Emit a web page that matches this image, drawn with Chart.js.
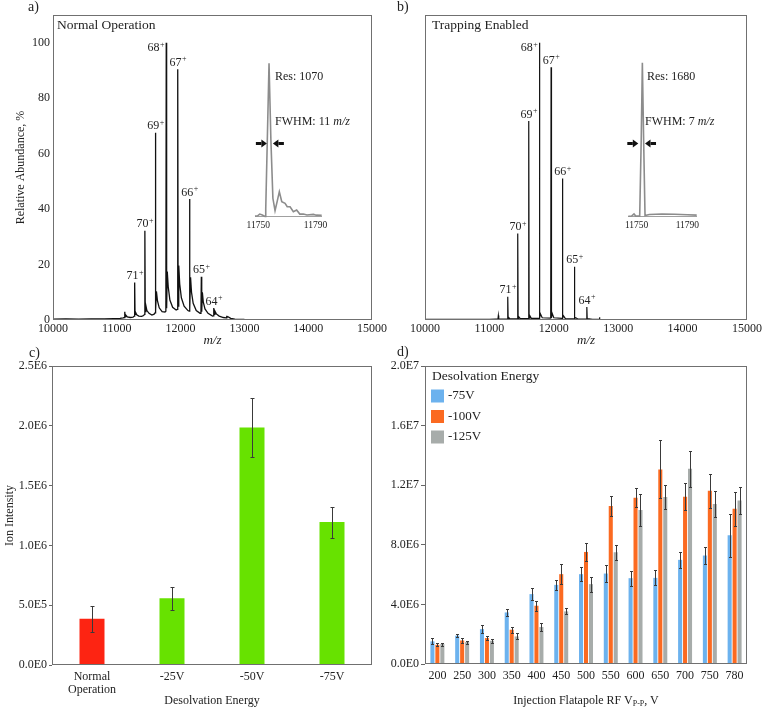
<!DOCTYPE html>
<html>
<head>
<meta charset="utf-8">
<script src="https://cdn.jsdelivr.net/npm/chart.js@4.4.0/dist/chart.umd.min.js"></script>
<style>
    body { margin: 0; background: #fff; width: 763px; height: 711px; position: relative; overflow: hidden;
           font-family: "Liberation Serif", "Times New Roman", serif; color: #222; }
    .box { position: absolute; }
    .t { position: absolute; white-space: nowrap; line-height: 1; }
    sub { font-size: 8px; vertical-align: -2px; }
</style>
</head>
<body>

<div class="box" style="left:0;top:0"><canvas id="specA" width="395" height="350"></canvas></div>
<div class="box" style="left:380px;top:0"><canvas id="specB" width="383" height="350"></canvas></div>
<div class="box" style="left:240px;top:50px"><canvas id="insetA" width="132" height="185"></canvas></div>
<div class="box" style="left:613px;top:50px"><canvas id="insetB" width="120" height="185"></canvas></div>
<div class="box" style="left:0;top:345px"><canvas id="barC" width="380" height="366"></canvas></div>
<div class="box" style="left:380px;top:345px"><canvas id="barD" width="383" height="366"></canvas></div>

<div class="t" style="left:28px;top:0;font-size:14px">a)</div>
<div class="t" style="left:397px;top:0;font-size:14px">b)</div>
<div class="t" style="left:29px;top:346px;font-size:14px">c)</div>
<div class="t" style="left:397px;top:345px;font-size:14px">d)</div>
<div class="t" style="left:57px;top:18px;font-size:13.5px">Normal Operation</div>
<div class="t" style="left:432px;top:18px;font-size:13.5px">Trapping Enabled</div>
<div class="t" style="left:275px;top:70px;font-size:12px">Res: 1070</div>
<div class="t" style="left:275px;top:115px;font-size:12px">FWHM: 11 <i>m/z</i></div>
<div class="t" style="left:647px;top:70px;font-size:12px">Res: 1680</div>
<div class="t" style="left:645px;top:115px;font-size:12px">FWHM: 7 <i>m/z</i></div>
<div class="t" style="left:436px;width:300px;text-align:center;top:694px;font-size:12px">Injection Flatapole RF V<sub>P-P</sub>, V</div>

<script>
// ---- a / b : mass spectra (m/z, relative abundance %)
const mzTicks = [10000, 11000, 12000, 13000, 14000, 15000];
const abundanceTicks = [0, 20, 40, 60, 80, 100];
const charges = [71, 70, 69, 68, 67, 66, 65, 64];
const peakMzA = [11280, 11440, 11605, 11775, 11955, 12140, 12325, 12520];
const peakHtA = [13.5, 32.2, 67.5, 100, 90.4, 43.6, 15.6, 4.3];
const peakMzB = [11285, 11440, 11611, 11777, 11958, 12134, 12320, 12513];
const peakHtB = [8.4, 31.2, 71.8, 100, 91.2, 51, 19.2, 4.7];

const traceA = [
    [10000, 0.3], [10200, 0.4], [10400, 0.3], [10600, 0.4], [10800, 0.4], [10950, 0.5], [11050, 0.6], [11100, 0.8],
    [11119, 0.9], [11125, 3.0], [11131, 1.2], [11140, 1.8], [11165, 1.1], [11210, 0.9], [11255, 1.0],
    [11274, 1.4], [11280, 13.5], [11286, 2.0], [11296, 2.7], [11312, 1.9], [11345, 1.4], [11390, 1.3], [11420, 1.6],
    [11434, 2.0], [11440, 32.2], [11446, 3.0], [11456, 5.2], [11472, 3.4], [11505, 2.4], [11550, 1.8], [11585, 2.1],
    [11599, 2.6], [11605, 67.5], [11611, 3.6], [11621, 10.3], [11637, 7.0], [11665, 4.4], [11710, 3.0], [11755, 2.9],
    [11769, 3.2], [11775, 100], [11781, 4.2], [11791, 17.5], [11806, 12.0], [11832, 7.2], [11875, 4.6], [11930, 3.6],
    [11949, 3.8], [11955, 90.4], [11961, 5.0], [11971, 19.6], [11986, 13.0], [12012, 8.0], [12055, 5.0], [12115, 3.4],
    [12134, 3.2], [12140, 43.6], [12146, 4.0], [12156, 15.4], [12171, 10.0], [12197, 6.0], [12245, 3.4], [12305, 2.4],
    [12319, 2.6], [12325, 15.6], [12331, 3.0], [12341, 10.0], [12356, 6.4], [12382, 4.0], [12430, 2.4], [12500, 1.4],
    [12514, 1.5], [12520, 4.3], [12526, 2.0], [12538, 3.2], [12560, 2.2], [12605, 1.4], [12670, 0.9],
    [12713, 0.8], [12720, 1.5], [12727, 0.9], [12742, 1.2], [12785, 0.6], [12850, 0.3], [13000, 0.2], [14000, 0.1], [15000, 0.1]
];

const traceB = [
    [10000, 0.2], [11000, 0.2], [11100, 0.3], [11133, 0.3], [11139, 1.6], [11145, 0.3],
    [11279, 0.3], [11285, 8.4], [11291, 0.5], [11300, 0.9], [11320, 0.4],
    [11434, 0.4], [11440, 31.2], [11446, 0.6], [11455, 1.2], [11480, 0.5],
    [11605, 0.5], [11611, 71.8], [11617, 0.7], [11627, 1.6], [11650, 0.6],
    [11771, 0.6], [11777, 100], [11783, 0.8], [11793, 2.2], [11820, 0.8],
    [11952, 0.7], [11958, 91.2], [11964, 0.8], [11975, 2.4], [12000, 0.8],
    [12128, 0.6], [12134, 51], [12140, 0.7], [12150, 1.5], [12180, 0.5],
    [12314, 0.4], [12320, 19.2], [12326, 0.5], [12340, 0.8], [12380, 0.3],
    [12507, 0.3], [12513, 4.7], [12519, 0.3], [12530, 0.5], [12600, 0.2],
    [12703, 0.2], [12709, 1.0], [12715, 0.2], [13000, 0.1], [15000, 0.1]
];

// insets: zoom on the 68+ peak (% of peak top)
const insetTicks = [11750, 11790];
const insetA = [
    [11747.7, 0.4], [11749.5, 0.6], [11751, 1.7], [11752.8, 1.1], [11754.7, 0.2], [11755.2, 5], [11756.3, 50],
    [11757.5, 100], [11758.8, 50], [11760.2, 12], [11761.7, 3.9], [11763.2, 10], [11764.7, 16.3], [11766.4, 9.8],
    [11768.7, 8.7], [11770.2, 6.5], [11772.2, 6.5], [11774.5, 3.3], [11776.8, 4.3], [11779, 1.7], [11781.5, 1.7],
    [11784, 1.1], [11788.5, 1.5], [11790.5, 1.0], [11794.3, 0.9]
];
const insetB = [
    [11743.4, 0.3], [11746, 0.4], [11747.9, 1.8], [11749.3, 0.4], [11752.4, 0.4], [11753.6, 50], [11754.5, 100],
    [11755.5, 50], [11756.6, 0.8], [11760, 1.4], [11770, 1.8], [11780, 1.6], [11790, 1.3], [11797.4, 1.0]
];
const fwhmEdgesA = [11756.0, 11760.2];
const fwhmEdgesB = [11751.3, 11756.6];

// ---- c : ion intensity vs desolvation energy
const energiesC = [['Normal', 'Operation'], '-25V', '-50V', '-75V'];
const intensityC = [3.87e5, 5.58e5, 1.985e6, 1.195e6];
const errorC = [1.1e5, 0.95e5, 2.5e5, 1.3e5];
const ticksC = [0, 5e5, 1e6, 1.5e6, 2e6, 2.5e6];

// ---- d : ion intensity vs injection flatapole RF
const rfD = ['200', '250', '300', '350', '400', '450', '500', '550', '600', '650', '700', '750', '780'];
const seriesD = ['-75V', '-100V', '-125V'];
const d75 = [1.52e6, 1.90e6, 2.34e6, 3.46e6, 4.69e6, 5.31e6, 6.03e6, 6.07e6, 5.76e6, 5.78e6, 6.99e6, 7.28e6, 8.64e6];
const d100 = [1.29e6, 1.58e6, 1.74e6, 2.30e6, 3.91e6, 6.03e6, 7.52e6, 10.6e6, 11.16e6, 13.06e6, 11.23e6, 11.63e6, 10.42e6];
const d125 = [1.34e6, 1.47e6, 1.56e6, 1.85e6, 2.48e6, 3.53e6, 5.36e6, 7.50e6, 10.33e6, 11.2e6, 13.1e6, 10.74e6, 10.98e6];
const e75 = [0.2e6, 0.1e6, 0.25e6, 0.25e6, 0.4e6, 0.35e6, 0.45e6, 0.6e6, 0.5e6, 0.5e6, 0.55e6, 0.55e6, 1.45e6];
const e100 = [0.1e6, 0.15e6, 0.15e6, 0.2e6, 0.35e6, 0.65e6, 0.6e6, 0.7e6, 0.65e6, 1.95e6, 0.9e6, 1.15e6, 1.15e6];
const e125 = [0.1e6, 0.1e6, 0.15e6, 0.2e6, 0.25e6, 0.2e6, 0.5e6, 0.5e6, 1.05e6, 0.8e6, 1.2e6, 0.9e6, 0.9e6];
const ticksD = [0, 4e6, 8e6, 1.2e7, 1.6e7, 2e7];

Chart.defaults.font.family = '"Liberation Serif", "Times New Roman", serif';
Chart.defaults.font.size = 12;
Chart.defaults.color = '#222';
Chart.defaults.animation = false;
Chart.defaults.responsive = false;
Chart.defaults.plugins.legend.display = false;
Chart.defaults.plugins.tooltip.enabled = false;

const toXY = arr => arr.map(([x, y]) => ({ x, y }));
const fixY = w => s => { s.width = w; s.paddingTop = 0; s.paddingBottom = 0; };
const fixX = h => s => { s.height = h; s.paddingLeft = 0; s.paddingRight = 0; };
const setTicks = vals => s => { s.ticks = vals.map(v => ({ value: v })); };
const sci = v => Number(v).toExponential(1).replace('e+', 'E');

// frame round the plot area
const plotBox = {
    id: 'plotBox',
    afterDraw(chart) {
        const { ctx, chartArea: a } = chart;
        ctx.save();
        ctx.strokeStyle = '#707070';
        ctx.lineWidth = 1;
        ctx.strokeRect(Math.round(a.left) + 0.5, Math.round(a.top) + 0.5,
            Math.round(a.right - a.left) - 1, Math.round(a.bottom - a.top) - 1);
        ctx.restore();
    }
};

// charge state labels above peaks (with superscript +)
const peakLabels = {
    id: 'peakLabels',
    afterDatasetsDraw(chart, args, o) {
        const { ctx, scales: { x, y } } = chart;
        ctx.save();
        ctx.fillStyle = '#222';
        ctx.textBaseline = 'middle';
        ctx.textAlign = 'left';
        o.mz.forEach((m, i) => {
            const num = String(o.z[i]);
            const off = o.offsets[o.z[i]] || [0, -6.5];
            ctx.font = '12px "Liberation Serif"';
            const w1 = ctx.measureText(num).width;
            ctx.font = '8px "Liberation Serif"';
            const w2 = ctx.measureText('+').width;
            const cx = x.getPixelForValue(m) + off[0];
            const cy = y.getPixelForValue(o.h[i]) + off[1];
            const left = cx - (w1 + w2) / 2;
            ctx.font = '12px "Liberation Serif"';
            ctx.fillText(num, left, cy);
            ctx.font = '8px "Liberation Serif"';
            ctx.fillText('+', left + w1 + 0.5, cy - 3.5);
        });
        ctx.restore();
    }
};

// FWHM arrows in the insets
const fwhmArrows = {
    id: 'fwhmArrows',
    afterDatasetsDraw(chart, args, o) {
        const { ctx, scales: { x, y } } = chart;
        const yy = Math.round(y.getPixelForValue(o.level)) + 0.5;
        ctx.save();
        ctx.fillStyle = '#111';
        o.edges.forEach((m, i) => {
            const tip = x.getPixelForValue(m);
            const dir = i === 0 ? 1 : -1;   // left arrow points right, right arrow points left
            const tail = tip - dir * o.len;
            const neck = tip - dir * 5.5;
            ctx.fillRect(Math.min(tail, neck), yy - 1.5, Math.abs(neck - tail), 3);
            ctx.beginPath();
            ctx.moveTo(tip, yy);
            ctx.lineTo(neck, yy - 4);
            ctx.lineTo(neck, yy + 4);
            ctx.closePath();
            ctx.fill();
        });
        ctx.restore();
    }
};

// error bars from dataset.errors
const errorBars = {
    id: 'errorBars',
    afterDatasetsDraw(chart, args, o) {
        const { ctx } = chart;
        const y = chart.scales.y;
        ctx.save();
        ctx.strokeStyle = o.color;
        ctx.lineWidth = 1;
        chart.data.datasets.forEach((ds, di) => {
            chart.getDatasetMeta(di).data.forEach((bar, i) => {
                const v = ds.data[i], e = ds.errors[i];
                const top = Math.round(y.getPixelForValue(v + e)) + 0.5;
                const bot = Math.round(y.getPixelForValue(v - e)) + 0.5;
                const bx = Math.round(bar.x) + 0.5;
                ctx.beginPath();
                ctx.moveTo(bx, top); ctx.lineTo(bx, bot);
                ctx.moveTo(bx - o.cap, top); ctx.lineTo(bx + o.cap, top);
                ctx.moveTo(bx - o.cap, bot); ctx.lineTo(bx + o.cap, bot);
                ctx.stroke();
            });
        });
        ctx.restore();
    }
};

// legend drawn inside the plot, top-left
const innerLegend = {
    id: 'innerLegend',
    afterDraw(chart, args, o) {
        const { ctx, chartArea: a } = chart;
        ctx.save();
        ctx.textBaseline = 'middle';
        ctx.textAlign = 'left';
        ctx.fillStyle = '#222';
        ctx.font = '13.5px "Liberation Serif"';
        ctx.fillText(o.title, a.left + 7, a.top + 10);
        ctx.font = '13px "Liberation Serif"';
        chart.data.datasets.forEach((ds, i) => {
            const cy = a.top + 30 + i * 20.5;
            ctx.fillStyle = ds.backgroundColor;
            ctx.fillRect(a.left + 6, cy - 6.5, 13, 13);
            ctx.fillStyle = '#222';
            ctx.fillText(ds.label, a.left + 23, cy);
        });
        ctx.restore();
    }
};

function spectrumChart(id, trace, mz, h, pad, withY, lw) {
    return new Chart(document.getElementById(id), {
        type: 'line',
        data: { datasets: [{ data: toXY(trace), borderColor: '#111', borderWidth: lw, pointRadius: 0, tension: 0 }] },
        options: {
            layout: { padding: pad },
            scales: {
                x: {
                    type: 'linear', min: 10000, max: 15000,
                    afterBuildTicks: setTicks(mzTicks), afterFit: fixX(30),
                    grid: { display: false, drawTicks: false }, border: { display: false },
                    ticks: { padding: 2, callback: v => String(v) },
                    title: { display: true, text: 'm/z', font: { size: 13, style: 'italic' }, padding: { top: 0, bottom: 2 } }
                },
                y: {
                    display: withY, min: 0, max: 110,
                    afterBuildTicks: setTicks(abundanceTicks), afterFit: fixY(withY ? 53 : 0),
                    grid: { display: false, drawTicks: false }, border: { display: false },
                    ticks: { padding: 3 },
                    title: { display: true, text: 'Relative Abundance, %', padding: { top: 14, bottom: 0 } }
                }
            },
            plugins: {
                peakLabels: { mz, h, z: charges, offsets: { 68: [-10.5, 5.5] } }
            }
        },
        plugins: [plotBox, peakLabels]
    });
}

function insetChart(id, trace, edges, min, max, pad) {
    return new Chart(document.getElementById(id), {
        type: 'line',
        data: { datasets: [{ data: toXY(trace), borderColor: '#8c8c8c', borderWidth: 1.6, pointRadius: 0, tension: 0, clip: 4 }] },
        options: {
            layout: { padding: pad },
            scales: {
                x: {
                    type: 'linear', min, max,
                    afterBuildTicks: setTicks(insetTicks), afterFit: fixX(18.3),
                    grid: { display: false, drawTicks: false },
                    border: { display: true, color: '#a0a0a0', width: 1 },
                    ticks: { padding: 3, font: { size: 9.5 }, callback: v => String(v) }
                },
                y: { display: false, min: 0, max: 100, afterFit: fixY(0) }
            },
            plugins: { fwhmArrows: { edges, level: 48, len: 11 } }
        },
        plugins: [fwhmArrows]
    });
}

spectrumChart('specA', traceA, peakMzA, peakHtA, { left: 0, right: 23, top: 15, bottom: 0 }, true, 1.3);
spectrumChart('specB', traceB, peakMzB, peakHtB, { left: 45, right: 16, top: 15, bottom: 0 }, false, 1.2);
insetChart('insetA', insetA, fwhmEdgesA, 11747.7, 11794.3, { left: 15, right: 50.3, top: 13.3, bottom: 0 });
insetChart('insetB', insetB, fwhmEdgesB, 11743.4, 11797.4, { left: 15.3, right: 36.3, top: 12.7, bottom: 0 });

// c
new Chart(document.getElementById('barC'), {
    type: 'bar',
    data: {
        labels: energiesC,
        datasets: [{
            data: intensityC, errors: errorC,
            backgroundColor: ['#fd2412', '#67e200', '#67e200', '#67e200'],
            barPercentage: 1, categoryPercentage: 0.3125
        }]
    },
    options: {
        layout: { padding: { left: 0, right: 8, top: 21, bottom: 0 } },
        scales: {
            x: {
                afterFit: fixX(46),
                grid: { display: false, drawTicks: false }, border: { display: false },
                ticks: { padding: 5, font: { size: 12, lineHeight: 1.1 } },
                title: { display: true, text: 'Desolvation Energy', padding: { top: 0, bottom: 3 } }
            },
            y: {
                min: 0, max: 2.5e6,
                afterBuildTicks: setTicks(ticksC), afterFit: fixY(52),
                grid: { drawOnChartArea: false, color: '#666', tickLength: 3 }, border: { display: false },
                ticks: { padding: 2, callback: sci },
                title: { display: true, text: 'Ion Intensity', padding: { top: 3, bottom: 0 } }
            }
        },
        plugins: { errorBars: { color: '#3a3a3a', cap: 2 } }
    },
    plugins: [plotBox, errorBars]
});

// d
new Chart(document.getElementById('barD'), {
    type: 'bar',
    data: {
        labels: rfD,
        datasets: [
            { label: seriesD[0], data: d75, errors: e75, backgroundColor: '#6cb2ee' },
            { label: seriesD[1], data: d100, errors: e100, backgroundColor: '#fb6a21' },
            { label: seriesD[2], data: d125, errors: e125, backgroundColor: '#a7acaa' }
        ].map(ds => ({ ...ds, barPercentage: 0.82, categoryPercentage: 0.6 }))
    },
    options: {
        layout: { padding: { left: 0, right: 16, top: 21, bottom: 0 } },
        scales: {
            x: {
                afterFit: fixX(47),
                grid: { display: false, drawTicks: false }, border: { display: false },
                ticks: { padding: 5 }
            },
            y: {
                min: 0, max: 2e7,
                afterBuildTicks: setTicks(ticksD), afterFit: fixY(45),
                grid: { drawOnChartArea: false, color: '#666', tickLength: 4 }, border: { display: false },
                ticks: { padding: 2, callback: sci }
            }
        },
        plugins: {
            errorBars: { color: '#3a3a3a', cap: 1.5 },
            innerLegend: { title: 'Desolvation Energy' }
        }
    },
    plugins: [plotBox, errorBars, innerLegend]
});
</script>
</body>
</html>
